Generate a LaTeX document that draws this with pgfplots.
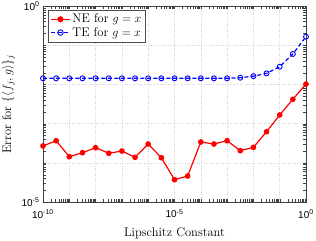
\documentclass[border=0pt]{standalone}
\usepackage{pgfplots}
\pgfplotsset{compat=1.18}
\usepackage{fontspec}
\newfontfamily\arial{Liberation Sans}
\begin{document}
\begin{tikzpicture}
\begin{axis}[
  scale only axis,
  width=263pt, height=196pt,
  xmode=log, ymode=log,
  xmin=1e-10, xmax=1, ymin=1e-5, ymax=1,
  xtick={1e-10,1e-9,1e-8,1e-7,1e-6,1e-5,1e-4,1e-3,1e-2,1e-1,1},
  xticklabels={10\textsuperscript{-10},,,,,10\textsuperscript{-5},,,,,10\textsuperscript{0}},
  ytick={1e-5,1e-4,1e-3,1e-2,1e-1,1},
  yticklabels={10\textsuperscript{-5},,,,,10\textsuperscript{0}},
  tick label style={font=\arial\fontsize{10}{11}\selectfont},
  xticklabel style={yshift=-4pt},
  tick align=inside,
  major tick length=2.5pt,
  minor tick num=0,
  grid=major,
  grid style={dotted, gray!35, line width=0.4pt},
  axis line style={black!75, line width=0.5pt},
  tick style={black!75},
  xlabel={Lipschitz Constant},
  ylabel={Error for $\{\langle f_j, g\rangle\}_j$},
  label style={font=\fontsize{12.5}{14}\selectfont},
  xlabel style={yshift=-3pt},
  ylabel style={yshift=0pt},
  legend style={font=\fontsize{12.5}{14}\selectfont, draw=black!70, line width=0.4pt, inner sep=2pt, row sep=-1pt, at={(0.02,0.98)}, anchor=north west},
  legend cell align=left,
  legend image post style={scale=1.1},
]
\addplot[red, line width=1.2pt, mark=*, mark size=2.2pt, mark options={solid}] coordinates {
(1e-10,2.69e-4)
(3.162e-10,3.66e-4)
(1e-9,1.43e-4)
(3.162e-9,1.81e-4)
(1e-8,2.43e-4)
(3.162e-8,1.75e-4)
(1e-7,2.00e-4)
(3.162e-7,1.38e-4)
(1e-6,3.02e-4)
(3.162e-6,1.35e-4)
(1e-5,3.71e-5)
(3.162e-5,4.60e-5)
(1e-4,3.40e-4)
(3.162e-4,3.02e-4)
(1e-3,3.66e-4)
(3.162e-3,2.04e-4)
(1e-2,2.48e-4)
(3.162e-2,6.21e-4)
(1e-1,1.66e-3)
(3.162e-1,4.17e-3)
(1,1.02e-2)
};
\addlegendentry{NE for $g=x$}
\addplot[blue, line width=1.2pt, dash pattern=on 4pt off 2.5pt, mark=o, mark size=2.5pt, mark options={solid, line width=0.9pt}] coordinates {
(1e-10,1.43e-2)
(3.162e-10,1.43e-2)
(1e-9,1.43e-2)
(3.162e-9,1.43e-2)
(1e-8,1.43e-2)
(3.162e-8,1.43e-2)
(1e-7,1.43e-2)
(3.162e-7,1.43e-2)
(1e-6,1.43e-2)
(3.162e-6,1.43e-2)
(1e-5,1.43e-2)
(3.162e-5,1.43e-2)
(1e-4,1.43e-2)
(3.162e-4,1.43e-2)
(1e-3,1.43e-2)
(3.162e-3,1.48e-2)
(1e-2,1.62e-2)
(3.162e-2,1.91e-2)
(1e-1,2.82e-2)
(3.162e-1,5.97e-2)
(1,1.65e-1)
};
\addlegendentry{TE for $g=x$}
\end{axis}
\pgfresetboundingbox
\path ([shift={(-43pt,-39pt)}]current axis.south west) rectangle ([shift={(10pt,6pt)}]current axis.north east);
\end{tikzpicture}
\end{document}
